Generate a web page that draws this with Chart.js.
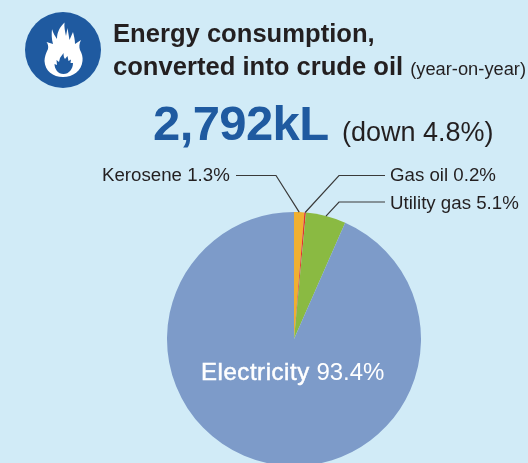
<!DOCTYPE html>
<html lang="en">
  <head>
    <meta charset="UTF-8">
    <title>Energy consumption</title>
    <script src="https://cdn.jsdelivr.net/npm/chart.js"></script>
    <style>
      html, body {
        margin: 0;
        width: 528px;
        height: 463px;
        overflow: hidden;
        background: #d1ebf7;
        font-family: "Liberation Sans", Arial, sans-serif;
        color: #231f20;
      }

      #chart {
        position: absolute;
        left: 0;
        top: 0;
      }

      .txt {
        position: absolute;
        white-space: nowrap;
      }

      .title {
        font-size: 25.6px;
        font-weight: bold;
        line-height: 33px;
      }

      .small {
        font-size: 18.3px;
        font-weight: normal;
      }

      .slice {
        font-size: 18.7px;
      }
    </style>
  </head>
  <body>
    <canvas id="chart" width="528" height="466"></canvas>

    <svg class="txt" style="left:25px;top:12px" width="76" height="76" viewBox="0 0 76 76">
      <circle cx="38" cy="38" r="38" fill="#1f5aa0" />
      <path fill="#fff" d="M39.5 10.5 C39 15 40 19 41 24 L42.5 16 C43 20 44 24 44.5 28 L48 20 C49 24 50 28 50 32 L56 28 C54 32 54 35 55 38 C57 42 58 45 57.5 49 C56.5 59 48 65 38 65 C28 65 20 59 19.5 49 C19.5 45 21 41 23 37 C23.5 34 23 32 21.5 30 L28 32 C26.5 27 26.5 22 27 17 C28 21 30 24 32 27 C32 20 35 15 39.5 10.5 Z" />
      <path fill="#1f5aa0" d="M38.5 41 C38.5 44 39 46 40 47 L42.5 44 L43.5 49 L46 47.5 L45.5 51 L48 51 C48 57 44 62 38.5 62 C33 62 29.5 57 29.5 52 L32 53 L31.5 48 L34 50 L35 46 C36 44 37.5 43 38.5 41 Z" />
    </svg>

    <div class="txt title" style="left:113px;top:17px">Energy consumption,</div>
    <div class="txt title" style="left:113px;top:50px">converted into crude oil <span class="small">(year-on-year)</span></div>

    <div class="txt" style="left:153px;top:95px;font-size:49px;font-weight:bold;color:#1f5aa0;letter-spacing:-0.6px">2,792kL</div>
    <div class="txt" style="left:342px;top:117px;font-size:27px">(down 4.8%)</div>

    <div class="txt slice" style="left:102px;top:164px">Kerosene 1.3%</div>
    <div class="txt slice" style="left:390px;top:164px">Gas oil 0.2%</div>
    <div class="txt slice" style="left:390px;top:192px">Utility gas 5.1%</div>
    <div class="txt" style="left:201px;top:358px;font-size:24px;color:#fff"><span style="-webkit-text-stroke:0.5px #fff;letter-spacing:0.55px">Electricity</span> 93.4%</div>

    <script>
      const categories = ['Kerosene', 'Gas oil', 'Utility gas', 'Electricity'];
      const shares = [1.3, 0.2, 5.1, 93.4];
      const sliceColors = ['#f0b030', '#e5332a', '#8aba42', '#7d9bc9'];

      // where each leader leaves its label: end x, elbow x, y
      const leaders = [
        { index: 0, endX: 236, elbowX: 276, y: 175.5 },
        { index: 1, endX: 385, elbowX: 339, y: 175.5 },
        { index: 2, endX: 385, elbowX: 339, y: 202 }
      ];

      const leaderLines = {
        id: 'leaderLines',
        afterDatasetsDraw(chart) {
          const ctx = chart.ctx;
          const arcs = chart.getDatasetMeta(0).data;
          ctx.save();
          ctx.strokeStyle = '#3a3a3a';
          ctx.lineWidth = 1.2;
          leaders.forEach(l => {
            const arc = arcs[l.index];
            const mid = (arc.startAngle + arc.endAngle) / 2;
            ctx.beginPath();
            ctx.moveTo(l.endX, l.y);
            ctx.lineTo(l.elbowX, l.y);
            ctx.lineTo(arc.x + Math.cos(mid) * arc.outerRadius, arc.y + Math.sin(mid) * arc.outerRadius);
            ctx.stroke();
          });
          ctx.restore();
        }
      };

      new Chart(document.getElementById('chart'), {
        type: 'pie',
        data: {
          labels: categories,
          datasets: [{
            data: shares,
            backgroundColor: sliceColors,
            borderWidth: 0
          }]
        },
        options: {
          responsive: false,
          animation: false,
          layout: {
            padding: { left: 167, right: 107, top: 212, bottom: 0 }
          },
          plugins: {
            legend: { display: false },
            tooltip: { enabled: false }
          }
        },
        plugins: [leaderLines]
      });
    </script>
  </body>
</html>
